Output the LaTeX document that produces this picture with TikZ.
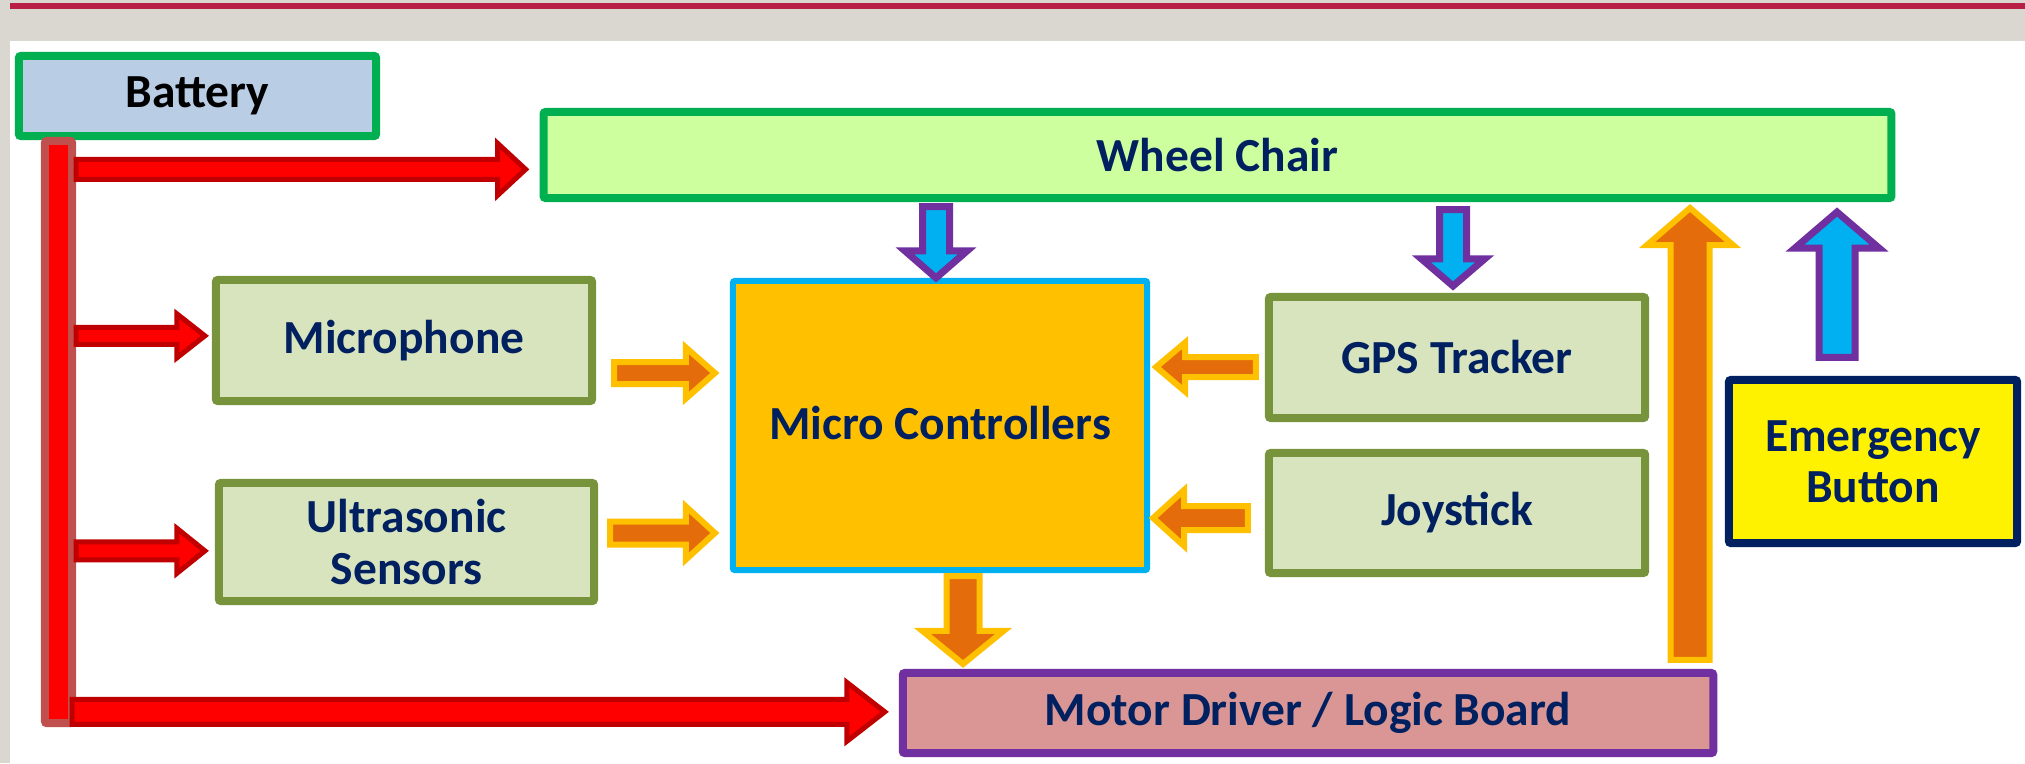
\documentclass[tikz,border=0pt]{standalone}
\usepackage{fontspec}
\setmainfont{Carlito}
\usetikzlibrary{calc}

\definecolor{bandgray}{HTML}{DAD7D1}
\definecolor{crimson}{HTML}{B91E45}
\definecolor{okgreen}{HTML}{00B050}
\definecolor{batfill}{HTML}{B9CDE5}
\definecolor{chairfill}{HTML}{CEFF9E}
\definecolor{olive}{HTML}{77933C}
\definecolor{olivefill}{HTML}{D7E4BD}
\definecolor{skyblue}{HTML}{00B0F0}
\definecolor{amber}{HTML}{FFC000}
\definecolor{violet}{HTML}{7030A0}
\definecolor{rosefill}{HTML}{D99694}
\definecolor{navy}{HTML}{002060}
\definecolor{darkred}{HTML}{C00000}
\definecolor{busedge}{HTML}{C0504D}
\definecolor{pumpkin}{HTML}{E46C0A}

% block arrows: style, tail point, tip point, half shaft width, half head width, head length
\newcommand\rarr[6]{\draw[#1] let \p1=#2, \p2=#3 in
  (\x1,\y1+#4) -- (\x2-#6,\y1+#4) -- (\x2-#6,\y1+#5) -- (\x2,\y1)
  -- (\x2-#6,\y1-#5) -- (\x2-#6,\y1-#4) -- (\x1,\y1-#4) -- cycle;}
\newcommand\larr[6]{\draw[#1] let \p1=#2, \p2=#3 in
  (\x1,\y1+#4) -- (\x2+#6,\y1+#4) -- (\x2+#6,\y1+#5) -- (\x2,\y1)
  -- (\x2+#6,\y1-#5) -- (\x2+#6,\y1-#4) -- (\x1,\y1-#4) -- cycle;}
\newcommand\darr[6]{\draw[#1] let \p1=#2, \p2=#3 in
  (\x1-#4,\y1) -- (\x1-#4,\y2+#6) -- (\x1-#5,\y2+#6) -- (\x1,\y2)
  -- (\x1+#5,\y2+#6) -- (\x1+#4,\y2+#6) -- (\x1+#4,\y1) -- cycle;}
\newcommand\uarr[6]{\draw[#1] let \p1=#2, \p2=#3 in
  (\x1-#4,\y1) -- (\x1-#4,\y2-#6) -- (\x1-#5,\y2-#6) -- (\x1,\y2)
  -- (\x1+#5,\y2-#6) -- (\x1+#4,\y2-#6) -- (\x1+#4,\y1) -- cycle;}

\tikzset{
  blk/.style={rectangle, rounded corners=0.02cm, line width=0.08cm, align=center,
    text=navy, font=\fontsize{13.5}{14.6}\selectfont\bfseries},
  powerarr/.style={fill=red, draw=darkred, line width=0.05cm, miter limit=4},
  dataarr/.style={fill=pumpkin, draw=amber, line width=0.06cm, miter limit=4},
  ctrlarr/.style={fill=skyblue, draw=violet, line width=0.07cm, miter limit=4},
}

\begin{document}
\begin{tikzpicture}[x=0.01cm, y=-0.01cm]
\useasboundingbox (0,0) rectangle (2025,763);
% page frame
\fill[white] (0,0) rectangle (2025,763);
\fill[bandgray] (0,0) rectangle (2025,41);
\fill[bandgray] (0,41) rectangle (10,763);
\fill[crimson] (10,3) rectangle (2025,9);

% blocks
\node[blk, draw=okgreen, fill=batfill, text=black, minimum width=3.57cm, minimum height=0.80cm]
  (battery) at (197.5,96) {Battery};
\node[blk, draw=okgreen, fill=chairfill, minimum width=13.47cm, minimum height=0.86cm]
  (chair) at (1217.5,155) {Wheel Chair};
\node[blk, draw=olive, fill=olivefill, minimum width=3.76cm, minimum height=1.21cm]
  (mic) at (404,340.5) {Microphone};
\node[blk, draw=olive, fill=olivefill, minimum width=3.75cm, minimum height=1.18cm]
  (sonar) at (406.5,542) {Ultrasonic\\Sensors};
\node[blk, draw=olive, fill=olivefill, minimum width=3.76cm, minimum height=1.21cm]
  (gps) at (1457,357.5) {GPS Tracker};
\node[blk, draw=olive, fill=olivefill, minimum width=3.76cm, minimum height=1.20cm]
  (joy) at (1457,513) {Joystick};
\node[blk, draw=skyblue, fill=amber, line width=0.06cm, minimum width=4.14cm, minimum height=2.89cm]
  (mcu) at (940,425.5) {\raisebox{0.06cm}{Micro Controllers}};
\node[blk, draw=violet, fill=rosefill, minimum width=8.10cm, minimum height=0.80cm]
  (motor) at (1308,713) {Motor Driver / Logic Board};
\node[blk, draw=navy, fill=yellow, minimum width=2.88cm, minimum height=1.63cm]
  (panic) at (1873,461.5) {Emergency\\Button};

% power bus from the battery
\node[rectangle, rounded corners=0.02cm, draw=busedge, fill=red, line width=0.08cm,
  minimum width=0.27cm, minimum height=5.82cm, inner sep=0pt] (bus) at (58.5,432) {};

% power feeds
\rarr{powerarr}{($(bus.north east)+(0,32.5)$)}{($(chair.west)+(-14,0)$)}{0.10cm}{0.26cm}{0.28cm}
\rarr{powerarr}{($(bus.north east)+(0,199)$)}{($(mic.west)+(-7,0)$)}{0.085cm}{0.22cm}{0.28cm}
\rarr{powerarr}{($(bus.north east)+(0,414)$)}{($(sonar.west)+(-10,0)$)}{0.09cm}{0.225cm}{0.28cm}
\rarr{powerarr}{($(bus.north east)+(-4,575)$)}{($(motor.west)+(-14,0)$)}{0.125cm}{0.295cm}{0.38cm}

% sensor data into the controller
\rarr{dataarr}{($(mic.east)+(18,32.5)$)}{($(mcu.west)+(-15,0)$)}{0.11cm}{0.255cm}{0.29cm}
\rarr{dataarr}{($(sonar.east)+(12,-9)$)}{($(mcu.west)+(-15,0)$)}{0.115cm}{0.265cm}{0.29cm}
\larr{dataarr}{($(gps.west)+(-9,9.5)$)}{($(mcu.east)+(6,0)$)}{0.10cm}{0.245cm}{0.29cm}
\larr{dataarr}{($(joy.west)+(-17,5)$)}{($(mcu.east)+(3,0)$)}{0.12cm}{0.28cm}{0.31cm}

% controller to driver, driver to chair
\darr{dataarr}{($(mcu.south)+(23,3)$)}{($(motor.north)+(0,-5)$)}{0.165cm}{0.405cm}{0.33cm}
\uarr{dataarr}{($(motor.north)+(382,-9)$)}{($(chair.south)+(0,6)$)}{0.195cm}{0.43cm}{0.37cm}

% chair links
\darr{ctrlarr}{($(chair.south)+(-281.5,4.5)$)}{($(mcu.north)+(0,0)$)}{0.135cm}{0.31cm}{0.27cm}
\darr{ctrlarr}{($(chair.south)+(235.5,7.5)$)}{($(gps.north)+(0,-7)$)}{0.135cm}{0.315cm}{0.27cm}
\uarr{ctrlarr}{($(panic.north)+(-36,-18.5)$)}{($(chair.south)+(0,10)$)}{0.18cm}{0.42cm}{0.36cm}
\end{tikzpicture}
\end{document}
